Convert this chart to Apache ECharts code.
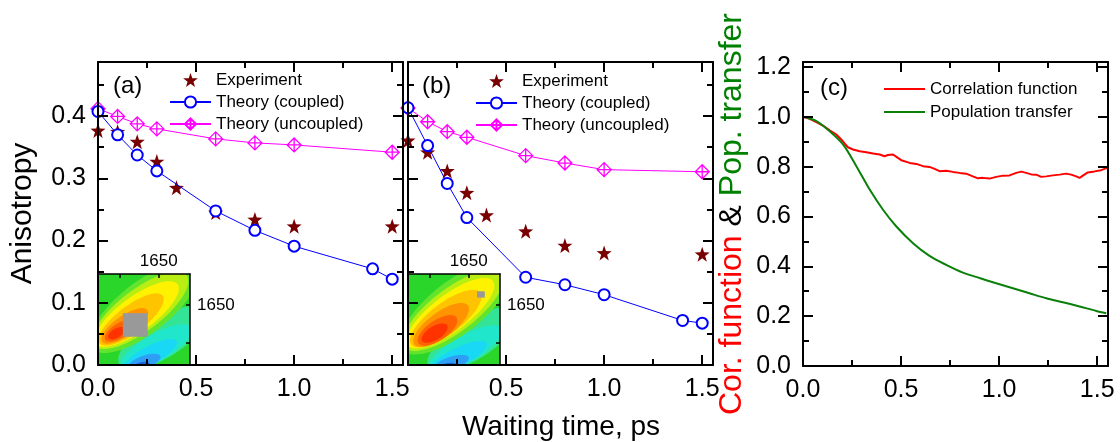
<!DOCTYPE html>
<html><head><meta charset="utf-8">
<script src="https://cdn.jsdelivr.net/npm/echarts@6/dist/echarts.min.js"></script>
<style>html,body{margin:0;padding:0;background:#fff}#c{width:1120px;height:442px}</style>
</head><body><div id="c"></div>
<script>
// ---------------- data ----------------
const expTimes = [0, 0.1, 0.2, 0.3, 0.4, 0.6, 0.8, 1.0, 1.5];
const expA = [0.377, 0.375, 0.359, 0.327, 0.285, 0.245, 0.234, 0.223, 0.223];
const expB = [0.361, 0.342, 0.312, 0.277, 0.241, 0.215, 0.192, 0.180, 0.178];

const coupledTimes = [0, 0.1, 0.2, 0.3, 0.6, 0.8, 1.0, 1.4, 1.5];
const coupledA = [0.4075, 0.370, 0.3375, 0.312, 0.2476, 0.2164, 0.191, 0.1545, 0.138];
const coupledB = [0.4135, 0.3526, 0.2918, 0.237, 0.141, 0.129, 0.113, 0.0716, 0.0673];

const uncoupledTimes = [0, 0.1, 0.2, 0.3, 0.6, 0.8, 1.0, 1.5];
const uncoupledA = [0.412, 0.3995, 0.3876, 0.3795, 0.3634, 0.357, 0.3537, 0.342];
const uncoupledB = [0.413, 0.391, 0.375, 0.366, 0.3365, 0.3246, 0.314, 0.3106];

const corrTimes = [0, 0.034, 0.068, 0.102, 0.136, 0.170, 0.195, 0.212, 0.229, 0.255, 0.289, 0.323, 0.357, 0.391, 0.416, 0.433, 0.459, 0.484, 0.501, 0.544, 0.578, 0.612, 0.645, 0.671, 0.696, 0.730, 0.764, 0.798, 0.832, 0.866, 0.892, 0.917, 0.951, 0.985, 1.019, 1.053, 1.087, 1.113, 1.138, 1.164, 1.189, 1.215, 1.240, 1.274, 1.308, 1.342, 1.367, 1.393, 1.410, 1.427, 1.452, 1.486, 1.520, 1.551];
const corrValues = [1.000, 0.992, 0.979, 0.965, 0.946, 0.929, 0.909, 0.893, 0.878, 0.869, 0.862, 0.858, 0.853, 0.849, 0.842, 0.847, 0.849, 0.835, 0.826, 0.815, 0.811, 0.802, 0.799, 0.791, 0.782, 0.784, 0.779, 0.775, 0.772, 0.761, 0.753, 0.755, 0.752, 0.759, 0.764, 0.765, 0.775, 0.780, 0.775, 0.769, 0.768, 0.759, 0.761, 0.765, 0.768, 0.772, 0.768, 0.761, 0.755, 0.764, 0.777, 0.781, 0.786, 0.795];

const popTimes = [0, 0.068, 0.136, 0.204, 0.272, 0.34, 0.408, 0.476, 0.561, 0.645, 0.730, 0.815, 0.900, 0.985, 1.070, 1.155, 1.240, 1.325, 1.410, 1.495, 1.546];
const popValues = [1.0, 0.983, 0.942, 0.889, 0.802, 0.708, 0.627, 0.560, 0.493, 0.442, 0.406, 0.375, 0.353, 0.332, 0.312, 0.292, 0.272, 0.256, 0.239, 0.221, 0.212];

// tick values
const timeMajor = [0, 0.5, 1.0, 1.5];
const timeMinor = [0.25, 0.75, 1.25];
const timeLabelsB = [0.5, 1.0, 1.5];
const anisoMajor = [0, 0.1, 0.2, 0.3, 0.4];
const anisoMinor = [0.05, 0.15, 0.25, 0.35, 0.45];
const corrMajor = [0, 0.2, 0.4, 0.6, 0.8, 1.0, 1.2];
const corrMinor = [0.1, 0.3, 0.5, 0.7, 0.9, 1.1];

// insets: 2D spectrum contour bands [centre u, centre w, semi-axis a, semi-axis b, angle deg, contour level]
const insetTicks = [0.24, 0.66];
const insetLabelValue = [0.66];
const insetLabelText = '1650';
const insetBandsA = [
  [0.70, 0.30, 0.55, 0.22, 32, -1],
  [0.63, 0.19, 0.44, 0.15, 30, -2],
  [0.57, 0.11, 0.32, 0.10, 28, -3],
  [0.50, 0.03, 0.19, 0.07, 20, -4],
  [0.47, -0.02, 0.10, 0.05, 15, -5],
  [0.50, 0.63, 0.72, 0.28, 38, 1],
  [0.46, 0.60, 0.63, 0.23, 37, 2],
  [0.42, 0.56, 0.55, 0.19, 36, 3],
  [0.36, 0.50, 0.43, 0.15, 37, 4],
  [0.29, 0.43, 0.30, 0.11, 35, 5],
  [0.24, 0.38, 0.19, 0.08, 32, 6],
  [0.20, 0.35, 0.10, 0.05, 30, 7]
];
const insetBandsB = [
  [0.70, 0.28, 0.56, 0.22, 32, -1],
  [0.62, 0.17, 0.46, 0.15, 30, -2],
  [0.55, 0.09, 0.34, 0.10, 26, -3],
  [0.47, 0.02, 0.20, 0.07, 18, -4],
  [0.43, -0.03, 0.11, 0.05, 12, -5],
  [0.52, 0.63, 0.74, 0.29, 38, 1],
  [0.49, 0.60, 0.66, 0.24, 37, 2],
  [0.46, 0.57, 0.58, 0.20, 37, 3],
  [0.41, 0.51, 0.47, 0.17, 37, 4],
  [0.36, 0.44, 0.36, 0.14, 36, 5],
  [0.32, 0.38, 0.25, 0.11, 34, 6],
  [0.29, 0.35, 0.16, 0.075, 32, 7]
];
const markerA = [[0.27, 0.31, 0.54, 0.57]];
const markerB = [[0.75, 0.74, 0.835, 0.81]];

// ---------------- styles ----------------
const FONT = '"Liberation Sans", Arial, sans-serif';
const levelColors = {
  '-5': '#1f5fe0', '-4': '#2f9ff5', '-3': '#18d8f5', '-2': '#20e6cc', '-1': '#34e496',
  '1': '#62e42c', '2': '#b9ee12', '3': '#fff200', '4': '#ffc400', '5': '#ff9400', '6': '#ff6200', '7': '#ff3200'
};
const starPath = 'path://M0,-10L2.35,-3.24L9.51,-3.09L3.8,1.24L5.88,8.09L0,4L-5.88,8.09L-3.8,1.24L-9.51,-3.09L-2.35,-3.24Z';
const diamondCross = 'path://M0,-10L10,0L0,10L-10,0ZM0,-10L0,10M-10,0L10,0';
const lineIcon = 'path://M0,0H40V2H0Z';

const zip = (xs, ys) => xs.map((x, i) => [x, ys[i]]);

const xAxes = [], yAxes = [];
function axisSet(list, grid, min, max, major, minor, posA, posB, labelVals, extra) {
  const base = {gridIndex: grid, type: 'value', min, max, z: 10, splitLine: {show: false}, silent: true};
  const line = {show: true, onZero: false, lineStyle: {color: '#000', width: 2}};
  const lbl = {show: !!labelVals, customValues: labelVals || major, formatter: v => v.toFixed(1),
    margin: 12, fontSize: 25, color: '#000', fontFamily: FONT};
  const idx = list.length;
  list.push(Object.assign({}, base, {position: posA, axisLine: line,
    axisTick: {show: true, inside: true, length: 10, customValues: major, lineStyle: {color: '#000', width: 2}},
    axisLabel: lbl}, extra || {}));
  list.push(Object.assign({}, base, {position: posA, axisLine: {show: false, onZero: false},
    axisTick: {show: true, inside: true, length: 6, customValues: minor, lineStyle: {color: '#000', width: 2}},
    axisLabel: {show: false}}));
  list.push(Object.assign({}, base, {position: posB, axisLine: line,
    axisTick: {show: true, inside: true, length: 10, customValues: major, lineStyle: {color: '#000', width: 2}},
    axisLabel: {show: false}}));
  list.push(Object.assign({}, base, {position: posB, axisLine: {show: false, onZero: false},
    axisTick: {show: true, inside: true, length: 6, customValues: minor, lineStyle: {color: '#000', width: 2}},
    axisLabel: {show: false}}));
  return idx;
}
const XMAX = 1.555;
const xa = axisSet(xAxes, 0, 0, XMAX, timeMajor, timeMinor, 'bottom', 'top', timeMajor);
const xb = axisSet(xAxes, 1, 0, XMAX, timeMajor, timeMinor, 'bottom', 'top', timeLabelsB);
const xc = axisSet(xAxes, 2, 0, XMAX, timeMajor, timeMinor, 'bottom', 'top', timeMajor);
const ya = axisSet(yAxes, 0, 0, 0.487, anisoMajor, anisoMinor, 'left', 'right', anisoMajor,
  {name: 'Anisotropy', nameLocation: 'middle', nameGap: 60,
   nameTextStyle: {fontSize: 30, color: '#000', fontFamily: FONT}});
const yb = axisSet(yAxes, 1, 0, 0.487, anisoMajor, anisoMinor, 'left', 'right', null);
const yc = axisSet(yAxes, 2, 0, 1.22, corrMajor, corrMinor, 'left', 'right', corrMajor,
  {name: '{r|Cor. function} {k|&} {g|Pop. transfer}', nameLocation: 'middle', nameGap: 55,
   nameTextStyle: {fontSize: 32, fontFamily: FONT, color: '#000',
     rich: {r: {color: '#ff0000', fontSize: 32, fontFamily: FONT},
            k: {color: '#000000', fontSize: 32, fontFamily: FONT},
            g: {color: '#008000', fontSize: 32, fontFamily: FONT}}}});

// inset axes
function insetAxes(grid) {
  const base = {gridIndex: grid, type: 'value', min: 0, max: 1, z: 10, splitLine: {show: false}, silent: true};
  const line = {show: true, onZero: false, lineStyle: {color: '#000', width: 1.5}};
  const tick = {show: true, inside: true, length: 4, customValues: insetTicks, lineStyle: {color: '#000', width: 1.5}};
  const xi = xAxes.length;
  xAxes.push(Object.assign({}, base, {position: 'bottom', axisLine: {show: false, onZero: false}, axisTick: {show: false}, axisLabel: {show: false}}));
  xAxes.push(Object.assign({}, base, {position: 'top', axisLine: line, axisTick: tick,
    axisLabel: {show: true, customValues: insetLabelValue, formatter: () => insetLabelText, margin: 4, fontSize: 17, color: '#000', fontFamily: FONT}}));
  const yi = yAxes.length;
  yAxes.push(Object.assign({}, base, {position: 'left', axisLine: {show: false, onZero: false}, axisTick: {show: false}, axisLabel: {show: false}}));
  yAxes.push(Object.assign({}, base, {position: 'right', axisLine: line, axisTick: tick,
    axisLabel: {show: true, customValues: insetLabelValue, formatter: () => insetLabelText, margin: 7, fontSize: 17, color: '#000', fontFamily: FONT}}));
  return [xi, yi];
}
const [ixA, iyA] = insetAxes(3);
const [ixB, iyB] = insetAxes(4);

function bandRender(params, api) {
  const c = api.coord([api.value(0), api.value(1)]);
  const s = api.size([api.value(2), api.value(3)]);
  const ang = api.value(4) * Math.PI / 180;
  const pts = [];
  for (let k = 0; k < 72; k++) {
    const t = k / 72 * Math.PI * 2;
    const ex = s[0] * Math.cos(t), ey = s[1] * Math.sin(t);
    pts.push([c[0] + ex * Math.cos(ang) - ey * Math.sin(ang), c[1] - (ex * Math.sin(ang) + ey * Math.cos(ang))]);
  }
  return {type: 'polygon', shape: {points: pts}, style: {fill: levelColors[String(api.value(5))]}, silent: true};
}
function markRender(params, api) {
  const p0 = api.coord([api.value(0), api.value(1)]);
  const p1 = api.coord([api.value(2), api.value(3)]);
  return {type: 'rect', shape: {x: p0[0], y: p1[1], width: p1[0] - p0[0], height: p0[1] - p1[1]}, style: {fill: '#999999'}, silent: true};
}

function panelSeries(x, y, exp, coupled, uncoupled) {
  return [
    {name: 'Experiment', type: 'scatter', xAxisIndex: x, yAxisIndex: y, data: zip(expTimes, exp),
     symbol: starPath, symbolSize: 15, itemStyle: {color: '#780000', opacity: 1}, z: 3},
    {name: 'Theory (uncoupled)', type: 'line', xAxisIndex: x, yAxisIndex: y, data: zip(uncoupledTimes, uncoupled),
     symbol: diamondCross, symbolSize: 14, showAllSymbol: true,
     lineStyle: {color: '#ff00ff', width: 1}, itemStyle: {color: '#ffffff', borderColor: '#ff00ff', borderWidth: 1.3}, z: 4},
    {name: 'Theory (coupled)', type: 'line', xAxisIndex: x, yAxisIndex: y, data: zip(coupledTimes, coupled),
     symbol: 'emptyCircle', symbolSize: 11, showAllSymbol: true,
     lineStyle: {color: '#0000ff', width: 1}, itemStyle: {color: '#0000ff', borderColor: '#0000ff', borderWidth: 3}, z: 5}
  ];
}

const legendBase = {orient: 'vertical', itemWidth: 41, itemHeight: 14, itemGap: 2, selectedMode: false,
  textStyle: {fontSize: 17, lineHeight: 20, color: '#000', fontFamily: FONT}, padding: 0};

const option = {
  animation: false,
  backgroundColor: '#ffffff',
  textStyle: {fontFamily: FONT},
  grid: [
    {left: 98, top: 62, width: 305, height: 303},
    {left: 408, top: 62, width: 305, height: 303},
    {left: 803, top: 62, width: 305, height: 304},
    {left: 98, top: 274, width: 92, height: 91, show: true, backgroundColor: '#2bd62b', borderWidth: 0, z: 0},
    {left: 408, top: 274, width: 92, height: 91, show: true, backgroundColor: '#2bd62b', borderWidth: 0, z: 0}
  ],
  xAxis: xAxes,
  yAxis: yAxes,
  legend: [
    Object.assign({}, legendBase, {left: 169, top: 70, data: ['Experiment', 'Theory (coupled)', 'Theory (uncoupled)']}),
    Object.assign({}, legendBase, {left: 475, top: 71, data: ['Experiment', 'Theory (coupled)', 'Theory (uncoupled)']}),
    Object.assign({}, legendBase, {left: 884, top: 79, itemGap: 3,
      data: [{name: 'Correlation function', icon: lineIcon}, {name: 'Population transfer', icon: lineIcon}]})
  ],
  graphic: [
    {type: 'text', left: 113, top: 74, style: {text: '(a)', fontSize: 24, fill: '#000', fontFamily: FONT}},
    {type: 'text', left: 422, top: 74, style: {text: '(b)', fontSize: 24, fill: '#000', fontFamily: FONT}},
    {type: 'text', left: 820, top: 76, style: {text: '(c)', fontSize: 24, fill: '#000', fontFamily: FONT}},
    {type: 'text', x: 561, y: 427, style: {text: 'Waiting time, ps', fontSize: 28, fill: '#000', fontFamily: FONT, align: 'center', verticalAlign: 'middle'}}
  ],
  series: [
    {type: 'custom', xAxisIndex: ixA, yAxisIndex: iyA, data: insetBandsA, renderItem: bandRender, clip: true, z: 1, silent: true},
    {type: 'custom', xAxisIndex: ixA, yAxisIndex: iyA, data: markerA, renderItem: markRender, clip: true, z: 1, silent: true},
    {type: 'custom', xAxisIndex: ixB, yAxisIndex: iyB, data: insetBandsB, renderItem: bandRender, clip: true, z: 1, silent: true},
    {type: 'custom', xAxisIndex: ixB, yAxisIndex: iyB, data: markerB, renderItem: markRender, clip: true, z: 1, silent: true},
    ...panelSeries(xa, ya, expA, coupledA, uncoupledA),
    ...panelSeries(xb, yb, expB, coupledB, uncoupledB),
    {name: 'Correlation function', type: 'line', xAxisIndex: xc, yAxisIndex: yc, data: zip(corrTimes, corrValues),
     showSymbol: false, symbol: 'none', lineStyle: {color: '#ff0000', width: 2}, itemStyle: {color: '#ff0000'}, z: 3},
    {name: 'Population transfer', type: 'line', xAxisIndex: xc, yAxisIndex: yc, data: zip(popTimes, popValues),
     showSymbol: false, symbol: 'none', smooth: 0.3, lineStyle: {color: '#0a800a', width: 2}, itemStyle: {color: '#0a800a'}, z: 4}
  ]
};
const chart = echarts.init(document.getElementById('c'), null, {renderer: 'canvas'});
chart.setOption(option);
</script>
</body></html>
